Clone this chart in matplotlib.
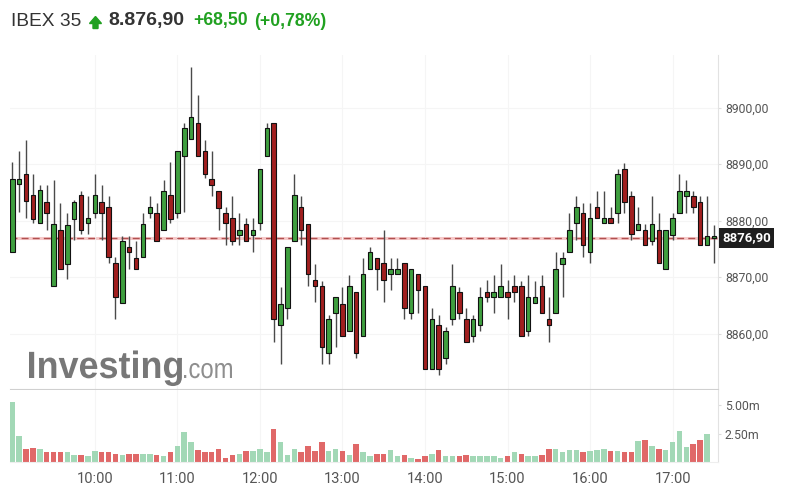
import numpy as np
import matplotlib.pyplot as plt
from matplotlib.patches import Polygon, PathPatch
from matplotlib.textpath import TextPath
from matplotlib.font_manager import FontProperties
from matplotlib.transforms import Affine2D

plt.rcParams['font.family'] = ['Roboto', 'DejaVu Sans']

# 5-minute candles, 9:00 .. 17:30
opens = [8874.4, 8886.4, 8888.3, 8884.5, 8879.5, 8883.3, 8868.4, 8878.4, 8872.4, 8880.3,
         8884.5, 8879.5, 8881.4, 8883.3, 8882.4, 8872.5, 8865.5, 8875.4, 8873.4, 8873.5,
         8881.4, 8881.3, 8878.4, 8884.5, 8881.4, 8891.4, 8894.4, 8897.2, 8892.4, 8887.3,
         8885.3, 8881.3, 8880.4, 8877.4, 8879.4, 8877.4, 8879.5, 8891.4, 8897.2, 8861.5,
         8864.5, 8876.4, 8882.4, 8879.4, 8869.5, 8868.5, 8856.5, 8863.6, 8865.3, 8860.5,
         8867.4, 8859.6, 8871.5, 8873.4, 8872.5, 8870.5, 8870.5, 8872.5, 8863.6, 8870.5,
         8868.5, 8853.7, 8861.5, 8855.6, 8862.5, 8867.4, 8862.5, 8859.6, 8861.5, 8867.4,
         8866.4, 8866.4, 8867.4, 8868.5, 8868.5, 8860.5, 8865.5, 8868.5, 8862.5, 8863.6,
         8872.4, 8874.4, 8879.5, 8881.3, 8874.4, 8882.4, 8879.5, 8880.4, 8881.4, 8889.2,
         8884.3, 8878.4, 8878.4, 8876.4, 8878.4, 8871.5, 8877.4, 8881.4, 8884.3, 8884.3,
         8883.3, 8875.6, 8876.9]
highs = [8890.3, 8892.3, 8894.2, 8888.3, 8886.3, 8886.3, 8887.2, 8883.2, 8881.3, 8883.6,
         8885.2, 8884.3, 8888.3, 8886.3, 8884.3, 8873.5, 8877.3, 8877.3, 8876.4, 8881.3,
         8884.3, 8883.2, 8887.2, 8890.3, 8892.4, 8897.2, 8907.2, 8902.2, 8894.2, 8892.4,
         8885.3, 8882.4, 8884.3, 8881.3, 8880.4, 8880.4, 8889.2, 8897.2, 8897.2, 8868.3,
         8875.4, 8888.3, 8884.3, 8879.4, 8872.4, 8869.3, 8863.3, 8866.4, 8868.3, 8870.4,
         8867.4, 8873.3, 8875.4, 8873.4, 8878.4, 8873.3, 8873.3, 8872.5, 8871.4, 8870.5,
         8868.5, 8864.5, 8863.3, 8861.2, 8872.4, 8868.3, 8864.5, 8863.3, 8868.3, 8869.5,
         8870.4, 8872.4, 8869.5, 8870.4, 8869.3, 8870.4, 8869.3, 8870.4, 8866.4, 8874.4,
         8874.4, 8881.3, 8884.3, 8883.2, 8883.2, 8885.3, 8885.3, 8882.4, 8889.2, 8890.2,
         8885.3, 8882.4, 8879.4, 8884.3, 8881.3, 8878.4, 8881.3, 8888.3, 8887.2, 8885.3,
         8884.3, 8884.3, 8879.2]
lows = [8874.4, 8881.6, 8880.4, 8879.5, 8879.5, 8878.4, 8868.4, 8871.5, 8869.6, 8876.5,
        8877.6, 8877.6, 8880.4, 8876.5, 8872.5, 8862.5, 8865.5, 8871.5, 8871.5, 8873.5,
        8880.4, 8876.4, 8878.4, 8879.5, 8880.4, 8881.6, 8894.4, 8891.4, 8887.5, 8884.3,
        8878.4, 8875.6, 8875.6, 8875.6, 8876.4, 8874.4, 8878.4, 8891.4, 8858.6, 8854.6,
        8862.5, 8876.4, 8875.6, 8868.5, 8865.6, 8854.6, 8854.6, 8857.7, 8859.6, 8860.5,
        8855.6, 8859.6, 8871.5, 8867.7, 8865.6, 8867.7, 8870.5, 8862.5, 8862.5, 8863.6,
        8853.7, 8853.7, 8852.7, 8854.6, 8861.5, 8862.5, 8858.6, 8858.6, 8860.5, 8865.6,
        8863.6, 8866.4, 8862.5, 8865.6, 8859.6, 8859.6, 8865.5, 8863.6, 8858.6, 8863.6,
        8866.4, 8874.4, 8876.5, 8873.6, 8872.5, 8880.4, 8879.5, 8879.5, 8879.5, 8881.4,
        8876.5, 8878.4, 8875.6, 8875.6, 8872.5, 8871.5, 8876.5, 8881.4, 8881.4, 8881.4,
        8875.6, 8875.6, 8872.5]
closes = [8887.3, 8887.3, 8883.5, 8880.3, 8885.4, 8881.4, 8879.4, 8871.5, 8879.3, 8883.3,
          8878.4, 8880.4, 8884.5, 8881.4, 8873.5, 8866.4, 8876.4, 8874.4, 8871.5, 8879.4,
          8882.4, 8876.4, 8885.3, 8880.3, 8892.4, 8896.3, 8898.3, 8891.4, 8888.3, 8886.3,
          8882.3, 8879.5, 8876.4, 8878.4, 8876.4, 8878.4, 8889.2, 8896.3, 8862.5, 8865.3,
          8875.4, 8884.5, 8878.4, 8870.5, 8868.5, 8857.7, 8862.5, 8866.4, 8859.6, 8868.5,
          8856.5, 8870.5, 8874.4, 8871.5, 8869.5, 8871.4, 8871.4, 8864.5, 8871.4, 8867.7,
          8853.7, 8862.5, 8853.7, 8860.5, 8868.5, 8863.6, 8858.6, 8862.5, 8866.4, 8866.4,
          8867.4, 8868.5, 8866.4, 8867.4, 8859.6, 8866.4, 8866.4, 8863.6, 8861.5, 8871.4,
          8873.4, 8878.4, 8882.4, 8875.6, 8880.4, 8880.4, 8880.4, 8879.5, 8888.3, 8883.3,
          8877.6, 8879.4, 8875.6, 8879.4, 8872.5, 8878.4, 8880.4, 8885.3, 8885.3, 8882.4,
          8875.6, 8877.3, 8876.9]
# volume in millions
volumes = [5.24, 2.26, 1.18, 1.26, 1.18, 0.85, 0.85, 0.85, 0.85, 0.62,
           0.62, 0.50, 0.94, 0.85, 0.85, 0.74, 0.62, 0.74, 0.74, 0.68,
           0.74, 0.62, 0.50, 0.85, 1.38, 2.62, 1.74, 1.03, 0.85, 0.85,
           1.18, 0.38, 0.62, 0.74, 0.94, 0.94, 1.18, 0.85, 2.94, 1.74,
           0.62, 1.18, 0.85, 1.38, 0.94, 1.74, 0.94, 1.18, 0.94, 0.62,
           1.62, 0.85, 0.50, 0.68, 0.74, 1.03, 0.50, 0.62, 0.35, 0.26,
           0.50, 0.74, 1.03, 0.50, 0.50, 0.50, 0.62, 0.50, 0.50, 0.50,
           0.50, 0.38, 0.50, 0.85, 0.74, 0.50, 0.50, 0.62, 1.15, 1.15,
           0.85, 1.03, 1.03, 0.85, 0.94, 1.03, 1.15, 0.94, 0.94, 0.85,
           0.85, 1.82, 1.91, 1.38, 1.18, 1.03, 1.74, 2.71, 1.29, 1.62,
           1.91, 2.50, 0.0]

hour_ticks = [12, 24, 36, 48, 60, 72, 84, 96]
hour_labels = ['10:00', '11:00', '12:00', '13:00', '14:00', '15:00', '16:00', '17:00']
price_ticks = [8860, 8870, 8880, 8890, 8900]
vol_ticks = [2.5, 5.0]
last_price = 8876.90

W, H = 788, 501
fig = plt.figure(figsize=(W / 100, H / 100), dpi=100)
ax = fig.add_axes([10 / W, 112 / H, 708 / W, 334 / H])
axv = fig.add_axes([10 / W, 39 / H, 708 / W, 72 / H], sharex=ax)

x = np.arange(len(opens))
o = np.array(opens)
c = np.array(closes)
up = c >= o
ax.vlines(x, lows, highs, color='#4a4a4a', lw=1, zorder=2)
ax.bar(x, np.maximum(np.abs(c - o), 0.3), 0.66, bottom=np.minimum(o, c),
       color=np.where(up, '#3f9f3f', '#a11f1f'), edgecolor='#111111',
       linewidth=0.8, zorder=3)

ax.axhline(last_price, color='#f6c9c9', lw=2.2, zorder=1.5)
ax.axhline(last_price, color='#b05050', lw=1, dashes=(5, 3), zorder=1.6)

ax.set_xlim(-0.33, 102.6)
ax.set_ylim(8850.2, 8909.3)
ax.yaxis.tick_right()
ax.set_yticks(price_ticks)
ax.set_yticklabels([f'{v:.2f}'.replace('.', ',') for v in price_ticks])
ax.tick_params(axis='y', labelsize=8.8, labelcolor='#555555', length=2.5,
               color='#dddddd', pad=2.5)
ax.tick_params(axis='x', labelbottom=False, length=0)
ax.grid(color='#f5f5f5', lw=0.8, zorder=0)
for s in ['top', 'left']:
    ax.spines[s].set_visible(False)
ax.spines['bottom'].set_color('#d0d0d0')
ax.spines['right'].set_color('#e2e2e2')

ax.annotate(f'{last_price:.2f}'.replace('.', ','), xy=(1, last_price),
            xycoords=('axes fraction', 'data'), xytext=(3, 0),
            textcoords='offset points', ha='left', va='center',
            fontsize=9.5, fontweight='bold', color='white',
            bbox=dict(boxstyle='square,pad=0.25', fc='#1e1e1e', ec='none'),
            annotation_clip=False)

# volume
prev = np.concatenate([[o[0]], c[:-1]])
vol_up = c >= prev
axv.bar(x, volumes, 0.8, color=np.where(vol_up, '#a2d8b6', '#e06868'), zorder=2)
axv.set_ylim(0, 6.33)
axv.yaxis.tick_right()
axv.set_yticks(vol_ticks)
axv.set_yticklabels([f'{v:.2f}m' for v in vol_ticks])
axv.tick_params(axis='y', labelsize=8.8, labelcolor='#555555', length=2.5,
                color='#dddddd', pad=2.5)
axv.set_xticks(hour_ticks)
axv.set_xticklabels(hour_labels)
axv.tick_params(axis='x', labelsize=10.5, labelcolor='#555555', length=0, pad=7)
axv.grid(axis='x', color='#f5f5f5', lw=0.8, zorder=0)
for s in ['top', 'left']:
    axv.spines[s].set_visible(False)
axv.spines['bottom'].set_color('#eeeeee')
axv.spines['right'].set_color('#e2e2e2')


# watermark, drawn as condensed text paths in figure pixels
def logo_text(s, x0, base, size, width, weight, color):
    tp = TextPath((0, 0), s, size=size,
                  prop=FontProperties(family='Liberation Sans', weight=weight))
    ext = tp.get_extents()
    sx = width / ext.width
    tr = Affine2D().translate(-ext.x0, 0).scale(sx, 1).translate(x0, H - base)
    fig.add_artist(PathPatch(tp, transform=tr, fc=color, ec='none', zorder=1))


logo_text('Investing', 29, 378, 38, 153, 'bold', '#777777')
logo_text('.com', 184, 378, 28, 48, 'normal', '#8e8e8e')

# header
hy = 1 - 21 / H
fig.text(11 / W, hy, 'IBEX 35', fontsize=13.8, color='#333333',
         family='Liberation Sans', va='center')
arrow = [(95.5, 16.5), (101.5, 23.5), (98, 23.5), (98, 28.5), (93, 28.5),
         (93, 23.5), (89.5, 23.5)]
fig.add_artist(Polygon([(px / W, 1 - py / H) for px, py in arrow],
                       closed=True, color='#21a121', transform=fig.transFigure))
fig.text(108 / W, hy, '8.876,90', fontsize=14, fontweight='bold', color='#333333',
         family='Liberation Sans', va='center')
fig.text(193 / W, hy, '+68,50', fontsize=12.7, fontweight='bold', color='#21a121',
         family='Liberation Sans', va='center')
fig.text(254 / W, hy, '(+0,78%)', fontsize=12.7, fontweight='bold', color='#21a121',
         family='Liberation Sans', va='center')

fig.savefig('out.png', dpi=100)
